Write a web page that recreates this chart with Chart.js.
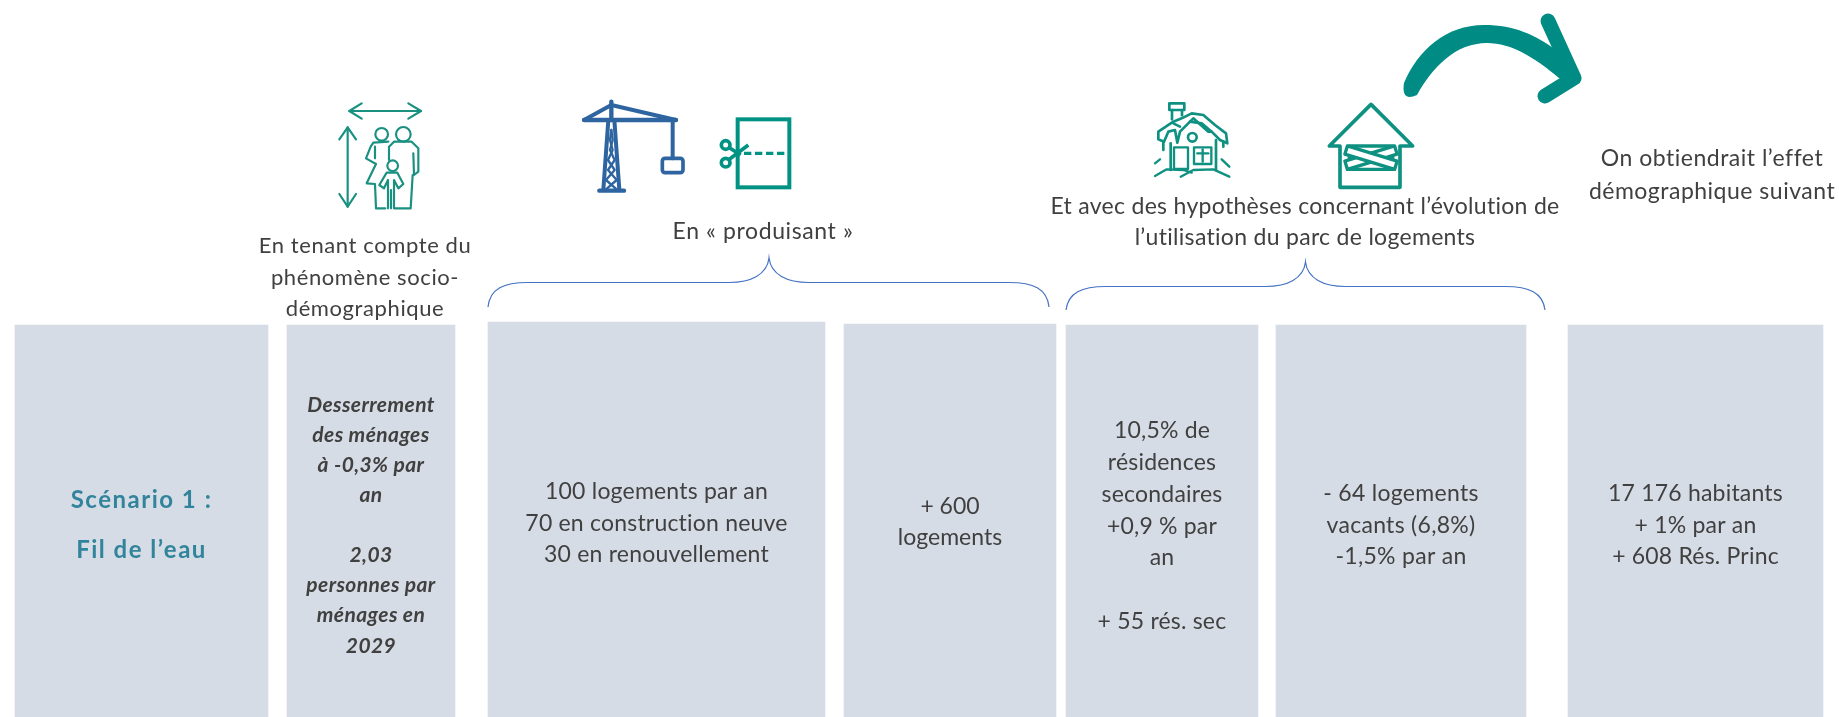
<!DOCTYPE html>
<html lang="fr">
<head>
<meta charset="utf-8">
<title>Scénario 1 : Fil de l’eau</title>
<script src="https://cdn.jsdelivr.net/npm/chart.js@4"></script>
<style>
  html, body { margin: 0; padding: 0; background: #fff; overflow: hidden; }
  canvas { display: block; }
</style>
</head>
<body>
<canvas id="myChart" width="1839" height="717"></canvas>
<script>
/* globals Chart:false */
// columns of the table
const panelLabels = ['Scénario', 'Desserrement', 'Production', 'Logements', 'Résidences secondaires', 'Logements vacants', 'Effet démographique'];
const panelCentres = [141.5, 371, 656.5, 950, 1162, 1401, 1695.5];
const panelHeights = [392, 392, 395, 393, 392, 392, 392];

// texts
const scenarioText = ['Scénario 1 :', 'Fil de l’eau'];
const menagesText = ['Desserrement', 'des ménages', 'à -0,3% par', 'an', '', '2,03', 'personnes par', 'ménages en', '2029'];
const productionText = ['100 logements par an', '70 en construction neuve', '30 en renouvellement'];
const logementsText = ['+ 600', 'logements'];
const secondairesText = ['10,5% de', 'résidences', 'secondaires', '+0,9 % par', 'an', '', '+ 55 rés. sec'];
const vacantsText = ['- 64 logements', 'vacants (6,8%)', '-1,5% par an'];
const effetText = ['17 176 habitants', '+ 1% par an', '+ 608 Rés. Princ'];
const headSocio = ['En tenant compte du', 'phénomène socio-', 'démographique'];
const headProduit = ['En « produisant »'];
const headParc = ['Et avec des hypothèses concernant l’évolution de', 'l’utilisation du parc de logements'];
const headEffet = ['On obtiendrait l’effet', 'démographique suivant'];

const panelWidths = [253, 168, 337, 212, 192, 250, 255];
const TEXT = '#404040', TEAL = '#0f9182', BLUE = '#2e65a0', FONT = 'Lato, sans-serif';

function lines(ctx, list, x, y, pitch, font, spacing, color) {
  ctx.font = font;
  ctx.letterSpacing = (spacing || 0) + 'px';
  ctx.fillStyle = color || TEXT;
  ctx.textAlign = 'center';
  ctx.textBaseline = 'middle';
  list.forEach((t, i) => { if (t) ctx.fillText(t, x, y + i * pitch); });
}

function brace(ctx, x0, x1, tip, top, low, tipY) {
  ctx.beginPath();
  ctx.moveTo(x0, low);
  ctx.bezierCurveTo(x0 + 2, top + 6, x0 + 16, top, x0 + 40, top);
  ctx.lineTo(tip - 40, top);
  ctx.bezierCurveTo(tip - 18, top, tip - 2, top - 8, tip, tipY);
  ctx.bezierCurveTo(tip + 2, top - 8, tip + 18, top, tip + 40, top);
  ctx.lineTo(x1 - 40, top);
  ctx.bezierCurveTo(x1 - 16, top, x1 - 2, top + 6, x1, low);
  ctx.strokeStyle = '#4472c4';
  ctx.lineWidth = 1.2;
  ctx.stroke();
}

function path(ctx, pts, close) {
  ctx.beginPath();
  pts.forEach((p, i) => i ? ctx.lineTo(p[0], p[1]) : ctx.moveTo(p[0], p[1]));
  if (close) ctx.closePath();
  ctx.stroke();
}

function circle(ctx, x, y, r) {
  ctx.beginPath();
  ctx.arc(x, y, r, 0, Math.PI * 2);
  ctx.stroke();
}

// family with the two arrows
function iconFamily(ctx) {
  ctx.save();
  ctx.translate(320, 100);
  ctx.scale(1 / 3, 1 / 3);
  ctx.strokeStyle = '#1a9080';
  ctx.lineWidth = 6.5;
  ctx.lineCap = 'round';
  ctx.lineJoin = 'round';
  path(ctx, [[88, 33], [303, 33]]);
  path(ctx, [[125, 10], [88, 33], [125, 56]]);
  path(ctx, [[265, 10], [303, 33], [265, 56]]);
  path(ctx, [[83, 82], [83, 320]]);
  path(ctx, [[58, 118], [83, 82], [108, 118]]);
  path(ctx, [[58, 282], [83, 320], [108, 282]]);
  circle(ctx, 185, 103, 19);
  circle(ctx, 250, 103, 22);
  path(ctx, [[205, 125], [160, 128], [152, 140], [138, 175], [168, 192], [140, 250], [165, 252], [168, 325], [196, 325]]);
  path(ctx, [[165, 140], [165, 175]]);
  path(ctx, [[207, 180], [207, 140], [222, 125], [275, 125], [295, 145], [295, 215], [282, 225], [280, 160]]);
  path(ctx, [[278, 225], [272, 325], [222, 325], [222, 240], [235, 265], [250, 252], [232, 218], [200, 218], [178, 255], [192, 265], [204, 240], [204, 325]]);
  path(ctx, [[213, 270], [213, 325]]);
  circle(ctx, 218, 197, 16);
  ctx.restore();
}

function iconCrane(ctx) {
  ctx.save();
  ctx.translate(570, 90);
  ctx.scale(1 / 3, 1 / 3);
  ctx.strokeStyle = BLUE;
  ctx.lineCap = 'round';
  ctx.lineJoin = 'round';
  ctx.lineWidth = 13;
  path(ctx, [[42, 90], [318, 90]]);
  path(ctx, [[88, 302], [162, 302]]);
  path(ctx, [[124, 35], [124, 90]]);
  ctx.lineWidth = 12;
  path(ctx, [[42, 90], [124, 45], [318, 90]]);
  path(ctx, [[115, 90], [100, 300]]);
  path(ctx, [[133, 90], [148, 300]]);
  path(ctx, [[308, 90], [308, 205]]);
  ctx.lineWidth = 11;
  ctx.beginPath();
  ctx.roundRect(277, 205, 62, 43, 8);
  ctx.stroke();
  // lattice of the mast
  ctx.lineWidth = 7;
  path(ctx, [[124, 120], [120, 150], [128, 180], [114, 210], [134, 240], [108, 270], [140, 298]]);
  path(ctx, [[124, 120], [128, 150], [120, 180], [134, 210], [114, 240], [140, 270], [108, 298]]);
  // sheet and scissors
  ctx.strokeStyle = '#009384';
  ctx.lineCap = 'butt';
  ctx.lineJoin = 'miter';
  ctx.lineWidth = 12;
  ctx.strokeRect(503, 88, 155, 204);
  ctx.lineWidth = 10;
  ctx.setLineDash([22, 11]);
  path(ctx, [[522, 190], [655, 190]]);
  ctx.setLineDash([]);
  ctx.lineWidth = 11;
  circle(ctx, 467, 165, 13);
  circle(ctx, 467, 218, 13);
  path(ctx, [[478, 173], [512, 195]]);
  path(ctx, [[478, 208], [535, 165]]);
  ctx.restore();
}

function iconHouses(ctx) {
  ctx.save();
  ctx.translate(1140, 90);
  ctx.scale(1 / 3, 1 / 3);
  ctx.strokeStyle = TEAL;
  ctx.lineCap = 'round';
  ctx.lineJoin = 'round';
  // snowy chalet
  ctx.lineWidth = 8;
  ctx.strokeRect(88, 40, 45, 20);
  path(ctx, [[96, 60], [96, 88]]);
  path(ctx, [[126, 60], [126, 76]]);
  path(ctx, [[55, 148], [55, 125], [100, 95], [125, 85], [155, 70], [190, 75], [225, 105], [258, 130], [262, 160], [240, 150], [215, 125], [205, 125], [160, 85], [120, 125], [112, 158], [105, 120], [85, 125], [72, 155], [55, 148]]);
  path(ctx, [[100, 100], [120, 110]]);
  path(ctx, [[150, 95], [185, 100], [215, 125]]);
  path(ctx, [[70, 155], [70, 180]]);
  path(ctx, [[92, 160], [92, 240]]);
  path(ctx, [[228, 150], [228, 240]]);
  path(ctx, [[250, 155], [250, 170]]);
  circle(ctx, 157, 142, 13);
  ctx.lineWidth = 7;
  ctx.strokeRect(102, 172, 42, 65);
  ctx.strokeRect(162, 172, 52, 50);
  path(ctx, [[172, 190], [205, 190]]);
  path(ctx, [[188, 178], [188, 215]]);
  path(ctx, [[45, 220], [60, 208]]);
  path(ctx, [[45, 258], [80, 238], [130, 240], [155, 248]]);
  path(ctx, [[122, 260], [160, 240], [220, 238], [268, 260]]);
  path(ctx, [[245, 208], [268, 230]]);
  // boarded up house
  ctx.lineWidth = 11;
  ctx.lineJoin = 'round';
  path(ctx, [[693, 43], [568, 168], [600, 168], [600, 292], [780, 292], [780, 168], [818, 168]], true);
  ctx.lineWidth = 10;
  ctx.strokeRect(628, 168, 130, 70);
  ctx.fillStyle = '#fff';
  ctx.save();
  ctx.translate(693, 203);
  [-17, 17].forEach(a => {
    ctx.save();
    ctx.rotate(a * Math.PI / 180);
    ctx.beginPath();
    ctx.rect(-78, -13, 156, 26);
    ctx.fill();
    ctx.stroke();
    ctx.restore();
  });
  ctx.restore();
  ctx.restore();
}

function bigArrow(ctx) {
  ctx.save();
  ctx.fillStyle = '#008b84';
  ctx.strokeStyle = '#008b84';
  ctx.beginPath();
  ctx.moveTo(1404, 83);
  ctx.bezierCurveTo(1418, 50, 1446, 25, 1484, 25);
  ctx.bezierCurveTo(1515, 25, 1535, 35, 1556, 50);
  ctx.lineTo(1570, 78);
  ctx.lineTo(1559, 78);
  ctx.bezierCurveTo(1535, 58, 1512, 43, 1487, 43);
  ctx.bezierCurveTo(1455, 43, 1432, 68, 1417, 95);
  ctx.quadraticCurveTo(1401, 102, 1404, 83);
  ctx.fill();
  ctx.lineWidth = 15;
  ctx.lineCap = 'round';
  ctx.lineJoin = 'round';
  path(ctx, [[1548, 21], [1574, 78], [1545, 96]]);
  ctx.restore();
}

const infoPlugin = {
  id: 'infoPlugin',
  afterDatasetsDraw(chart) {
    const ctx = chart.ctx;
    const x = chart.scales.x;
    const col = i => x.getPixelForValue(panelCentres[i]);
    const normal = '23px ' + FONT;

    iconFamily(ctx);
    iconCrane(ctx);
    iconHouses(ctx);
    bigArrow(ctx);

    brace(ctx, 488, 1049, 769, 282.5, 307, 258);
    brace(ctx, 1066, 1545, 1305.5, 286.5, 310, 262);

    ctx.save();
    lines(ctx, headSocio, 365, 246, 31.5, '22px ' + FONT, 0.6);
    lines(ctx, headProduit, 763, 232, 31, normal, 0.6);
    lines(ctx, headParc, 1305, 207, 31, normal, 0.3);
    lines(ctx, headEffet, 1712, 159, 33, normal, 0.5);

    lines(ctx, scenarioText, col(0), 500, 50, 'bold 24px ' + FONT, 1.5, '#31849b');
    lines(ctx, menagesText, col(1), 405, 30.1, 'italic bold 21px ' + FONT, 0.4);
    lines(ctx, productionText, col(2), 492, 31.5, normal, 0.2);
    lines(ctx, logementsText, col(3), 507, 31, normal);
    lines(ctx, secondairesText, col(4), 431, 31.7, normal, 0.2);
    lines(ctx, vacantsText, col(5), 494, 31.5, normal, 0.3);
    lines(ctx, effetText, col(6), 494, 31.5, normal, 0.2);
    ctx.restore();
  }
};

new Chart(document.getElementById('myChart'), {
  type: 'bar',
  data: {
    datasets: panelLabels.map((label, i) => ({
      label: label,
      data: [{ x: panelCentres[i], y: panelHeights[i] }],
      barThickness: panelWidths[i],
      backgroundColor: '#d6dce5',
      borderWidth: 0
    }))
  },
  options: {
    responsive: false,
    animation: false,
    grouped: false,
    layout: { padding: 0 },
    plugins: { legend: { display: false }, tooltip: { enabled: false } },
    scales: {
      x: { type: 'linear', min: 0, max: 1839, offset: false, display: false },
      y: { min: 0, max: 717, display: false }
    }
  },
  plugins: [infoPlugin]
});
</script>
</body>
</html>
